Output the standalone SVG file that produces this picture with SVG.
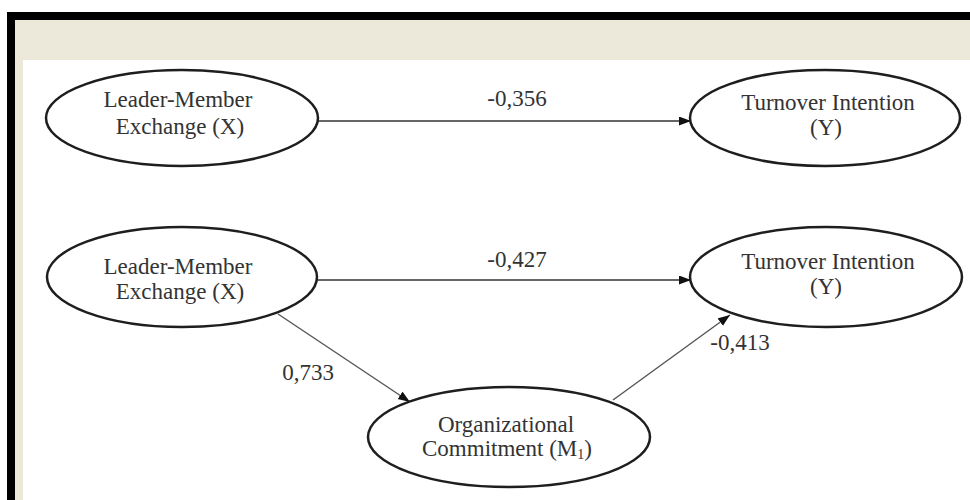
<svg xmlns="http://www.w3.org/2000/svg" width="970" height="500" viewBox="0 0 970 500">
<style>
.node ellipse{fill:#fff;stroke:#1e1e1e;stroke-width:2.5}
text{font-family:"Liberation Serif","Times New Roman",serif;font-size:23px;fill:#333;text-anchor:middle}
.edge{stroke:#666;fill:none}
.h{stroke-width:2}
.d{stroke-width:1.4;stroke:#555}
</style>
<defs>
<marker id="arr" markerUnits="userSpaceOnUse" markerWidth="13" markerHeight="10" refX="12" refY="4.5" orient="auto">
<path d="M0,0 L12,4.5 L0,9 z" fill="#111"/>
</marker>
</defs>
<rect x="0" y="0" width="970" height="500" fill="#fff"/>
<rect x="7" y="12" width="963" height="488" fill="#000"/>
<rect x="15" y="20" width="955" height="480" fill="#ECE9DA"/>
<rect x="23" y="60" width="947" height="440" fill="#fff"/>
<g id="connectors">
<line class="edge h" x1="318" y1="121" x2="691" y2="121" marker-end="url(#arr)"/>
<line class="edge h" x1="317" y1="280" x2="691" y2="280" marker-end="url(#arr)"/>
<line class="edge d" x1="278" y1="314" x2="410" y2="402" marker-end="url(#arr)"/>
<line class="edge d" x1="613" y1="400" x2="730" y2="315" marker-end="url(#arr)"/>
<text x="517" y="106">-0,356</text>
<text x="517" y="267">-0,427</text>
<text x="308" y="380">0,733</text>
<text x="740" y="350">-0,413</text>
</g>
<g id="lmx1" class="node">
<ellipse cx="182" cy="118" rx="136" ry="48"/>
<text x="178" y="107">Leader-Member</text>
<text x="180" y="134">Exchange (X)</text>
</g>
<g id="ti1" class="node">
<ellipse cx="825" cy="118" rx="135" ry="48"/>
<text x="828" y="110">Turnover Intention</text>
<text x="826" y="135">(Y)</text>
</g>
<g id="lmx2" class="node">
<ellipse cx="182" cy="277" rx="135" ry="50"/>
<text x="178" y="274">Leader-Member</text>
<text x="180" y="299">Exchange (X)</text>
</g>
<g id="ti2" class="node">
<ellipse cx="826" cy="277" rx="136" ry="50"/>
<text x="828" y="269">Turnover Intention</text>
<text x="826" y="294">(Y)</text>
</g>
<g id="oc" class="node">
<ellipse cx="509" cy="437" rx="141" ry="50"/>
<text x="506" y="432">Organizational</text>
<text x="507" y="456">Commitment (M<tspan font-size="14" dy="3">1</tspan><tspan dy="-3">)</tspan></text>
</g>
</svg>
